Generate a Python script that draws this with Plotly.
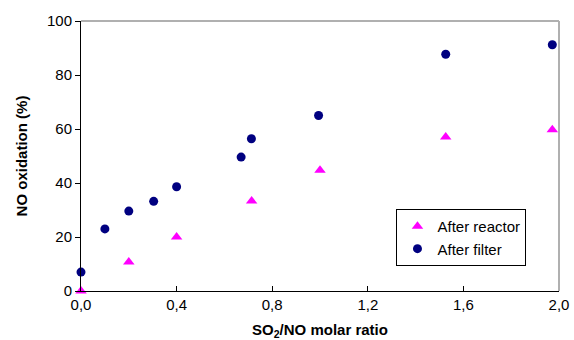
import plotly.graph_objects as go

reactor_x = [0.0, 0.2, 0.4, 0.714, 1.0, 1.526, 1.972]
reactor_y = [0.0, 10.7, 20.0, 33.3, 44.7, 57.0, 59.7]
filter_x = [0.0, 0.1, 0.2, 0.304, 0.4, 0.67, 0.713, 0.994, 1.526, 1.972]
filter_y = [7.0, 23.0, 29.6, 33.2, 38.6, 49.6, 56.4, 65.0, 87.7, 91.2]
x_ticks = [0.0, 0.4, 0.8, 1.2, 1.6, 2.0]
x_tick_labels = ["0,0", "0,4", "0,8", "1,2", "1,6", "2,0"]
y_ticks = [0, 20, 40, 60, 80, 100]

FONT = "Liberation Sans, Arial, sans-serif"

fig = go.Figure()
fig.add_trace(go.Scatter(x=reactor_x, y=reactor_y, mode="markers", name="After reactor",
                         marker=dict(symbol="triangle-up", size=10, color="#FF00FF"),
                         cliponaxis=False))
fig.add_trace(go.Scatter(x=filter_x, y=filter_y, mode="markers", name="After filter",
                         marker=dict(symbol="circle", size=9, color="#000080"),
                         cliponaxis=False))

fig.update_layout(
    width=574, height=340,
    margin=dict(l=81, r=15, t=21, b=49),
    paper_bgcolor="white", plot_bgcolor="white",
    font=dict(family=FONT, size=15, color="black"),
    showlegend=True,
    legend=dict(x=0.66, y=0.304, xanchor="left", yanchor="top",
                bordercolor="black", borderwidth=1, bgcolor="white",
                font=dict(size=15), itemwidth=30, tracegroupgap=0),
    xaxis=dict(range=[0, 2.0], tickvals=x_ticks, ticktext=x_tick_labels,
               ticks="inside", ticklen=5, tickcolor="black",
               showline=True, linecolor="black", linewidth=1,
               showgrid=False, zeroline=False, automargin=False,
               tickfont=dict(size=15),
               title=dict(text="<b>SO<sub>2</sub>/NO molar ratio</b>", font=dict(size=15))),
    yaxis=dict(range=[0, 100], tickvals=y_ticks,
               ticks="outside", ticklen=5, tickcolor="black",
               showline=True, linecolor="black", linewidth=1,
               showgrid=False, zeroline=False, automargin=False,
               tickfont=dict(size=15),
               title=dict(text="<b>NO oxidation (%)</b>", font=dict(size=15))),
    shapes=[
        dict(type="line", xref="paper", yref="paper", x0=0, x1=1, y0=1, y1=1,
             line=dict(color="#B0B0B0", width=2)),
        dict(type="line", xref="paper", yref="paper", x0=1, x1=1, y0=0, y1=1,
             line=dict(color="#B0B0B0", width=2)),
    ],
)

fig.write_html("out.html", config={"displayModeBar": False},
               post_script="document.body.style.margin='0';document.body.style.overflow='hidden';")
